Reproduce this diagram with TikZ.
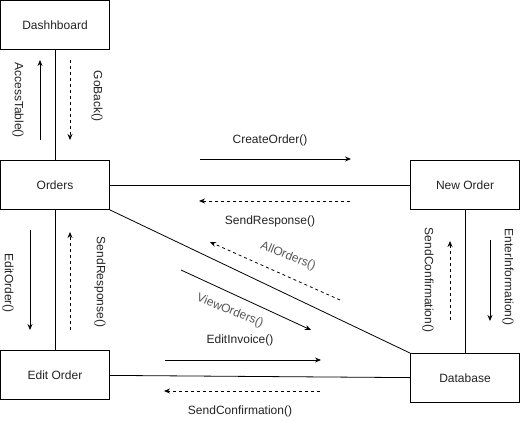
\documentclass[tikz,border=0pt]{standalone}
\usepackage{fontspec}
\setmainfont{Liberation Sans}
\usetikzlibrary{arrows.meta,positioning}
\definecolor{msggray}{HTML}{555555}
\definecolor{txtgray}{HTML}{222222}

\begin{document}
\begin{tikzpicture}[x=1pt, y=-1pt,
  objbox/.style={rectangle, draw, line width=0.8pt, minimum width=109pt, minimum height=49pt, align=center, text=txtgray, font=\fontsize{12}{14}\selectfont},
  link/.style={line width=0.8pt},
  msg/.style={-{Stealth[length=6pt,width=5pt]}, line width=0.8pt},
  reply/.style={msg, dash pattern=on 3pt off 3pt},
  lbl/.style={font=\fontsize{12}{14}\selectfont, text=txtgray, inner sep=0pt},
  vlbl/.style={lbl, rotate=-90},
  slbl/.style={lbl, text=msggray, rotate=-22}
]
\useasboundingbox (0,0) rectangle (524,421);

% Objects
\node[objbox] (dash) at (55,25) {Dashhboard};
\node[objbox] (orders) at (55,185) {Orders};
\node[objbox] (neworder) at (465,185) {New Order};
\node[objbox] (editorder) at (55,375) {Edit Order};
\node[objbox] (db) at (465,378) {Database};

% Links
\draw[link] (dash) -- (orders);
\draw[link] (orders) -- (editorder);
\draw[link] (orders) -- (neworder);
\draw[link] (neworder) -- (db);
\draw[link] (editorder) -- (db);
\draw[link] (orders.south east) -- (db.north west);

% Dashboard <-> Orders
\coordinate (at1) at (40,140); \coordinate (at2) at (40,60);
\coordinate (gb1) at (70,60); \coordinate (gb2) at (70,140);
\draw[msg] (at1) -- (at2);
\draw[reply] (gb1) -- (gb2);
\node[vlbl] (accesstable) at (18,100) {AccessTable()};
\node[vlbl] (goback) at (97,96) {GoBack()};

% Orders <-> Edit Order
\coordinate (eo1) at (30,230); \coordinate (eo2) at (30,330);
\coordinate (sr1) at (70,330); \coordinate (sr2) at (70,232);
\draw[msg] (eo1) -- (eo2);
\draw[reply] (sr1) -- (sr2);
\node[vlbl] (editorderlbl) at (8,283) {EditOrder()};
\node[vlbl] (sendresp1) at (100,282) {SendResponse()};

% Orders <-> New Order
\coordinate (co1) at (200,159); \coordinate (co2) at (351,159);
\coordinate (sn1) at (350,201); \coordinate (sn2) at (199,201);
\draw[msg] (co1) -- (co2);
\draw[reply] (sn1) -- (sn2);
\node[lbl] (createorder) at (270,140) {CreateOrder()};
\node[lbl] (sendresp2) at (270,221) {SendResponse()};

% Orders <-> Database
\coordinate (ao1) at (340,300); \coordinate (ao2) at (210,242);
\coordinate (vo1) at (181,270); \coordinate (vo2) at (311,330);
\draw[reply] (ao1) -- (ao2);
\draw[msg] (vo1) -- (vo2);
\node[slbl] (allorders) at (288,256) {AllOrders()};
\node[slbl] (vieworders) at (230,311) {ViewOrders()};

% Edit Order <-> Database
\coordinate (ei1) at (165,360); \coordinate (ei2) at (321,360);
\coordinate (sc1) at (320,391); \coordinate (sc2) at (164,391);
\draw[msg] (ei1) -- (ei2);
\draw[reply] (sc1) -- (sc2);
\node[lbl] (editinvoice) at (240,340) {EditInvoice()};
\node[lbl] (sendconf1) at (240,411) {SendConfirmation()};

% New Order <-> Database
\coordinate (sf1) at (450,320); \coordinate (sf2) at (450,241);
\coordinate (ef1) at (490,240); \coordinate (ef2) at (490,321);
\draw[reply] (sf1) -- (sf2);
\draw[msg] (ef1) -- (ef2);
\node[vlbl] (sendconf2) at (428,280) {SendConfirmation()};
\node[vlbl] (enterinfo) at (508,277) {EnterInformation()};

\end{tikzpicture}
\end{document}
